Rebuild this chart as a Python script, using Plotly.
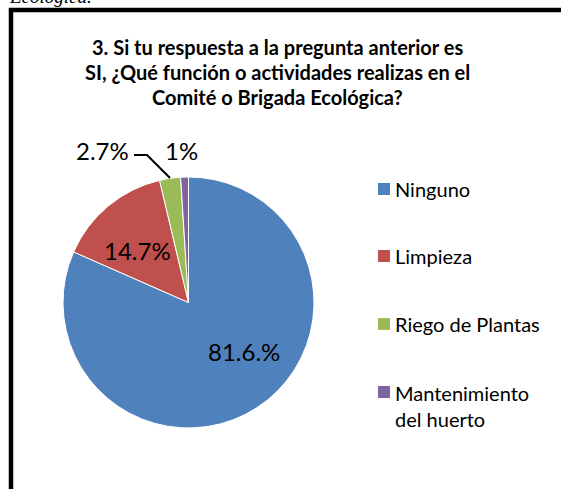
import plotly.graph_objects as go

W, H = 561, 489

categorias = ["Ninguno", "Limpieza", "Riego de Plantas", "Mantenimiento<br>del huerto"]
porcentajes = [81.6, 14.7, 2.7, 1.0]
etiquetas = ["81.6.%", "14.7%", "2.7%", "1%"]
colores = ["#4F81BD", "#C0504D", "#9BBB59", "#8064A2"]
titulo = ["3. Si tu respuesta a la pregunta anterior es",
          "SI, ¿Qué función o actividades realizas en el",
          "Comité o Brigada Ecológica?"]

FONT = "Lato"


def px(x):
    return x / W


def py(y):
    return 1 - y / H


fig = go.Figure()
fig.add_trace(go.Pie(
    labels=categorias,
    values=porcentajes,
    sort=False,
    direction="clockwise",
    rotation=0,
    textinfo="none",
    hoverinfo="label+percent",
    marker=dict(colors=colores, line=dict(color="white", width=1)),
    domain=dict(x=[px(63), px(314)], y=[py(428), py(177)]),
    showlegend=False,
))

annotations = []
shapes = []

# texto cortado arriba
annotations.append(dict(text="<i>Ecológica.</i>", x=px(7), y=py(9), xref="paper", yref="paper",
                        xanchor="left", yanchor="bottom", showarrow=False,
                        font=dict(family="Liberation Serif", size=19, color="black")))

# titulo
for i, linea in enumerate(titulo):
    annotations.append(dict(text="<b>" + linea + "</b>", x=px(277), y=py(47 + 25 * i),
                            xref="paper", yref="paper", xanchor="center", yanchor="middle",
                            showarrow=False, font=dict(family=FONT, size=20, color="black")))

# etiquetas de datos
pos_etiquetas = [(244, 351), (137, 250), (102, 150), (181, 150)]
for txt, (x, y) in zip(etiquetas, pos_etiquetas):
    annotations.append(dict(text=txt, x=px(x), y=py(y), xref="paper", yref="paper",
                            xanchor="center", yanchor="middle", showarrow=False,
                            font=dict(family=FONT, size=24, color="black")))

# linea guia 2.7%
shapes.append(dict(type="path", xref="paper", yref="paper",
                   path=f"M {px(134)} {py(155)} L {px(147)} {py(155)} L {px(170)} {py(178)}",
                   line=dict(color="black", width=2)))

# leyenda
ley_y = [189, 256, 324, 392]
for cat, col, y in zip(categorias, colores, ley_y):
    shapes.append(dict(type="rect", xref="paper", yref="paper",
                       x0=px(378), x1=px(390), y0=py(y + 6), y1=py(y - 6),
                       fillcolor=col, line=dict(width=0)))
    multi = "<br>" in cat
    annotations.append(dict(text=cat, x=px(393), y=py(y - 13) if multi else py(y),
                            xref="paper", yref="paper", xanchor="left",
                            yanchor="top" if multi else "middle", align="left",
                            showarrow=False, font=dict(family=FONT, size=20, color="black")))

# marco
shapes.append(dict(type="rect", xref="paper", yref="paper",
                   x0=px(11), x1=1.2, y0=-0.2, y1=py(10),
                   line=dict(color="black", width=4.5), fillcolor="rgba(0,0,0,0)"))

fig.update_layout(
    width=W, height=H,
    margin=dict(l=0, r=0, t=0, b=0),
    paper_bgcolor="white",
    plot_bgcolor="white",
    annotations=annotations,
    shapes=shapes,
)

fig.write_html("out.html", config={"displayModeBar": False},
               post_script="document.body.style.margin='0';")
